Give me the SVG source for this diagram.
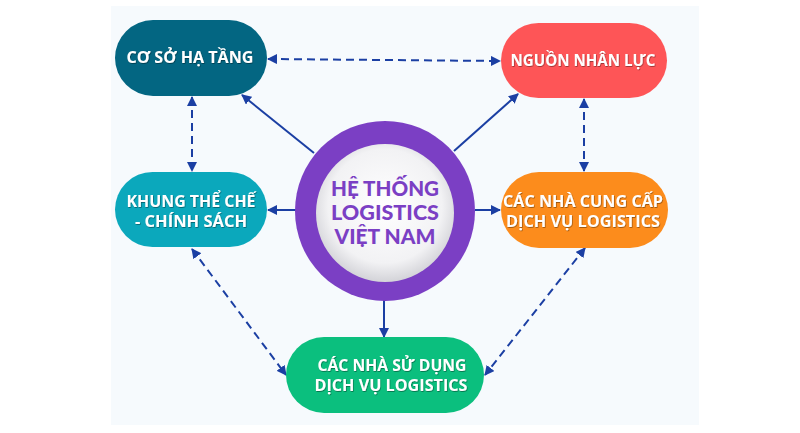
<svg xmlns="http://www.w3.org/2000/svg" width="800" height="433" viewBox="0 0 800 433">
<style>
.lbl{font-family:"Open Sans","Liberation Sans",sans-serif;font-weight:700;font-size:15.5px;fill:#ffffff;text-anchor:middle}
.ctr{font-family:Lato,"Open Sans","Liberation Sans",sans-serif;font-weight:900;font-size:20px;fill:#7b3fc4;text-anchor:middle}
.solid{stroke:#1b3fa3;stroke-width:2;fill:none}
.dash{stroke:#1b3fa3;stroke-width:2;fill:none;stroke-dasharray:8 5}
</style>
<defs>
<marker id="a" viewBox="0 0 10 10" refX="9" refY="5" markerWidth="10" markerHeight="10" orient="auto-start-reverse" markerUnits="userSpaceOnUse">
<path d="M0,0 L10,5 L0,10 z" fill="#1b3fa3"/>
</marker>
<radialGradient id="ball" cx="0.5" cy="0.45" r="0.55">
<stop offset="0" stop-color="#ffffff"/>
<stop offset="0.75" stop-color="#f2f2f4"/>
<stop offset="1" stop-color="#d3d3d8"/>
</radialGradient>
<filter id="ts" x="-10%" y="-20%" width="120%" height="140%">
<feDropShadow dx="0.6" dy="0.8" stdDeviation="0.6" flood-color="#000" flood-opacity="0.45"/>
</filter>
</defs>
<rect x="0" y="0" width="800" height="433" fill="#ffffff"/>
<rect x="111" y="6" width="588" height="419" fill="#f6fafd"/>

<g id="connectors">
<line class="dash" x1="268" y1="59" x2="500" y2="61" marker-start="url(#a)" marker-end="url(#a)"/>
<line class="dash" x1="192" y1="97" x2="192" y2="171" marker-start="url(#a)" marker-end="url(#a)"/>
<line class="dash" x1="584" y1="99" x2="584" y2="171" marker-start="url(#a)" marker-end="url(#a)"/>
<line class="dash" x1="192" y1="249" x2="286" y2="375" marker-start="url(#a)" marker-end="url(#a)"/>
<line class="dash" x1="585" y1="248" x2="485" y2="375" marker-start="url(#a)" marker-end="url(#a)"/>
<line class="solid" x1="314" y1="153" x2="242" y2="95" marker-end="url(#a)"/>
<line class="solid" x1="454" y1="151" x2="518" y2="94" marker-end="url(#a)"/>
<line class="solid" x1="296" y1="210" x2="268" y2="210" marker-end="url(#a)"/>
<line class="solid" x1="475" y1="210" x2="500" y2="210" marker-end="url(#a)"/>
<line class="solid" x1="384" y1="300" x2="384" y2="337" marker-end="url(#a)"/>
</g>

<g id="center">
<circle cx="385" cy="211" r="90" fill="#7b3fc4"/>
<circle cx="385" cy="213" r="69" fill="url(#ball)"/>
<text class="ctr" x="385" y="196" textLength="108" lengthAdjust="spacingAndGlyphs">HỆ THỐNG</text>
<text class="ctr" x="385" y="220" textLength="108" lengthAdjust="spacingAndGlyphs">LOGISTICS</text>
<text class="ctr" x="385" y="244" textLength="101" lengthAdjust="spacingAndGlyphs">VIỆT NAM</text>
</g>

<g id="co-so-ha-tang">
<rect x="115" y="20" width="152" height="76" rx="38" fill="#036682"/>
<text class="lbl" x="190" y="63" filter="url(#ts)" textLength="127" lengthAdjust="spacingAndGlyphs">CƠ SỞ HẠ TẦNG</text>
</g>

<g id="nguon-nhan-luc">
<rect x="501" y="23" width="166" height="75" rx="37.5" fill="#fe5557"/>
<text class="lbl" x="583" y="66" filter="url(#ts)" textLength="145" lengthAdjust="spacingAndGlyphs">NGUỒN NHÂN LỰC</text>
</g>

<g id="khung-the-che">
<rect x="115" y="172" width="152" height="75" rx="37.5" fill="#0ba8bc"/>
<text class="lbl" x="191" y="207" filter="url(#ts)" textLength="129" lengthAdjust="spacingAndGlyphs">KHUNG THỂ CHẾ</text>
<text class="lbl" x="191" y="227" filter="url(#ts)" textLength="112" lengthAdjust="spacingAndGlyphs">- CHÍNH SÁCH</text>
</g>

<g id="nha-cung-cap">
<rect x="501" y="172" width="167" height="76" rx="38" fill="#fc8c1c"/>
<text class="lbl" x="583" y="207" filter="url(#ts)" textLength="160" lengthAdjust="spacingAndGlyphs">CÁC NHÀ CUNG CẤP</text>
<text class="lbl" x="583" y="227" filter="url(#ts)" textLength="154" lengthAdjust="spacingAndGlyphs">DỊCH VỤ LOGISTICS</text>
</g>

<g id="nha-su-dung">
<rect x="286" y="337" width="198" height="76" rx="38" fill="#0bbf7e"/>
<text class="lbl" x="392" y="371" filter="url(#ts)" textLength="149" lengthAdjust="spacingAndGlyphs">CÁC NHÀ SỬ DỤNG</text>
<text class="lbl" x="391" y="391" filter="url(#ts)" textLength="153" lengthAdjust="spacingAndGlyphs">DỊCH VỤ LOGISTICS</text>
</g>
</svg>
